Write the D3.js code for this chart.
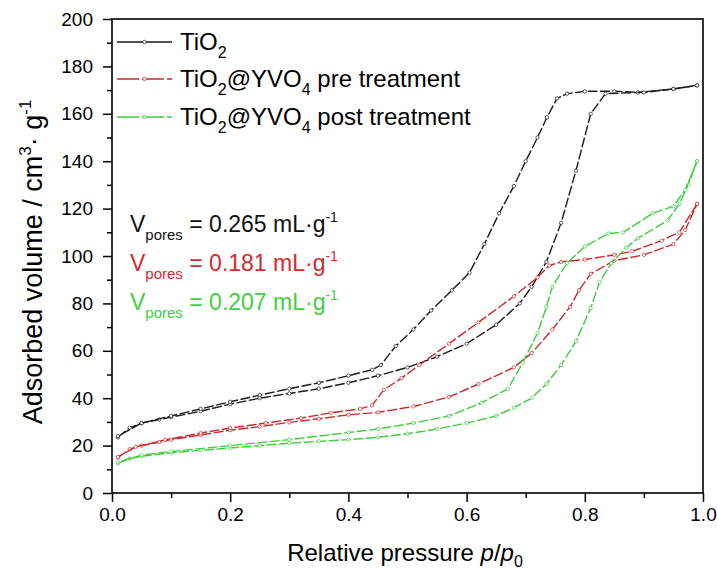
<!DOCTYPE html>
<html>
<head>
<meta charset="utf-8">
<script src="https://cdn.jsdelivr.net/npm/d3@7"></script>
<style>
  html, body { margin: 0; padding: 0; background: #fff; }
  svg { display: block; font-family: "Liberation Sans", Arial, sans-serif; }
</style>
</head>
<body>
<svg id="chart" width="717" height="571"></svg>
<script>
// N2 sorption isotherms: relative pressure p/p0 vs adsorbed volume (cm3/g)
const xTicks = [0.0, 0.2, 0.4, 0.6, 0.8, 1.0];
const yTicks = [0, 20, 40, 60, 80, 100, 120, 140, 160, 180, 200];

// Legend entries as [text, isSubscript] runs
const seriesNames = [
  [["TiO", false], ["2", true]],
  [["TiO", false], ["2", true], ["@YVO", false], ["4", true], [" pre treatment", false]],
  [["TiO", false], ["2", true], ["@YVO", false], ["4", true], [" post treatment", false]]
];
const seriesColors = ["#1a1a1a", "#c8282c", "#3ccc3c"];
const poreVolumes = ["0.265", "0.181", "0.207"];
const labelColors = ["#111111", "#d42a2e", "#3fcf3f"];

// TiO2 — adsorption branch
const tio2AdsP = [0.01, 0.03, 0.05, 0.08, 0.10, 0.15, 0.20, 0.25, 0.30, 0.35, 0.40, 0.45, 0.50, 0.55, 0.60, 0.65, 0.69, 0.71, 0.735, 0.76, 0.785, 0.81, 0.835, 0.89, 0.95, 0.99];
const tio2AdsV = [23.5, 27.5, 29.5, 31, 32, 34.5, 37.5, 40, 42, 44, 46.5, 49.5, 53, 57.5, 63, 71, 80, 87, 97.5, 114, 136, 160, 168.5, 169, 170.5, 172];
// TiO2 — desorption branch
const tio2DesP = [0.99, 0.95, 0.90, 0.85, 0.80, 0.77, 0.753, 0.736, 0.72, 0.70, 0.68, 0.655, 0.63, 0.605, 0.575, 0.54, 0.51, 0.48, 0.455, 0.44, 0.40, 0.35, 0.30, 0.25, 0.20, 0.15, 0.10, 0.05, 0.01];
const tio2DesV = [172, 170.5, 169, 169.5, 169.5, 168.5, 166.5, 158.5, 150, 140, 129.5, 118, 105, 93, 85.5, 77, 69, 62, 54, 52, 49.5, 46.5, 44, 41.3, 38.5, 35.5, 32.5, 29.5, 24];

// TiO2@YVO4 pre treatment — adsorption branch
const preAdsP = [0.01, 0.03, 0.05, 0.08, 0.10, 0.15, 0.20, 0.25, 0.30, 0.35, 0.40, 0.45, 0.51, 0.57, 0.62, 0.68, 0.71, 0.745, 0.775, 0.79, 0.81, 0.85, 0.90, 0.95, 0.97, 0.99];
const preAdsV = [15, 18.5, 20, 21.5, 22.5, 24.5, 26.5, 28, 29.8, 31.3, 33, 34, 36.5, 40.5, 46, 53, 59, 69, 78.5, 85.5, 92.5, 98, 100.5, 105, 111, 122];
// TiO2@YVO4 pre treatment — desorption branch
const preDesP = [0.99, 0.96, 0.93, 0.88, 0.85, 0.80, 0.76, 0.74, 0.72, 0.68, 0.62, 0.57, 0.52, 0.49, 0.46, 0.44, 0.42, 0.37, 0.32, 0.26, 0.20, 0.15, 0.09, 0.04, 0.01];
const preDesV = [122, 110, 106.5, 102, 100.5, 98.5, 97.5, 96, 91, 83, 72, 63, 54, 48.5, 43.5, 37, 35.5, 33.8, 31.6, 29.5, 27.4, 25.3, 22.4, 19.5, 15.2];

// TiO2@YVO4 post treatment — adsorption branch
const postAdsP = [0.01, 0.03, 0.05, 0.10, 0.15, 0.20, 0.25, 0.30, 0.35, 0.40, 0.45, 0.50, 0.55, 0.60, 0.65, 0.68, 0.71, 0.735, 0.76, 0.785, 0.81, 0.825, 0.845, 0.87, 0.89, 0.94, 0.96, 0.975, 0.99];
const postAdsV = [12.5, 14.5, 15.5, 17, 18, 19, 20, 21, 21.8, 22.5, 23.5, 25, 27, 29.5, 32.5, 36, 40, 46, 54, 64, 78, 89, 97, 103.5, 107.5, 115, 122, 130, 140];
// TiO2@YVO4 post treatment — desorption branch
const postDesP = [0.99, 0.97, 0.95, 0.915, 0.865, 0.84, 0.80, 0.77, 0.745, 0.735, 0.72, 0.695, 0.67, 0.625, 0.57, 0.51, 0.45, 0.40, 0.30, 0.20, 0.10, 0.05, 0.01];
const postDesV = [140, 128, 121, 118, 110, 109.5, 104, 97, 87, 78.5, 67.5, 55, 44, 38, 32.5, 29.5, 27, 25.5, 22.5, 20, 17.5, 16, 13];

const branches = [
  { s: 0, p: tio2AdsP, v: tio2AdsV }, { s: 0, p: tio2DesP, v: tio2DesV },
  { s: 1, p: preAdsP, v: preAdsV },   { s: 1, p: preDesP, v: preDesV },
  { s: 2, p: postAdsP, v: postAdsV }, { s: 2, p: postDesP, v: postDesV }
];

const svg = d3.select("#chart");
const plotLeft = 112, plotRight = 703, plotTop = 19, plotBottom = 493;
const x = d3.scaleLinear().domain([0, 1]).range([plotLeft, plotRight]);
const y = d3.scaleLinear().domain([0, 200]).range([plotBottom, plotTop]);

// Axes with outward major and minor ticks
const xAxis = d3.axisBottom(x).tickValues(xTicks).tickFormat(d3.format(".1f")).tickSize(9).tickPadding(6);
const xMinor = d3.axisBottom(x).tickValues(d3.range(0.1, 1, 0.2)).tickFormat("").tickSize(5);
const yAxis = d3.axisLeft(y).tickValues(yTicks).tickFormat(d3.format("d")).tickSize(9).tickPadding(10);
const yMinor = d3.axisLeft(y).tickValues(d3.range(10, 200, 20)).tickFormat("").tickSize(5);

function styleAxis(g) {
  g.select(".domain").remove();
  g.selectAll("line").attr("stroke", "#000").attr("stroke-width", 1.5);
  g.selectAll("text").attr("fill", "#000").attr("font-size", 19).attr("font-family", "'Liberation Sans', Arial, sans-serif");
}
svg.append("g").attr("transform", `translate(0,${plotBottom})`).call(xAxis).call(styleAxis);
svg.append("g").attr("transform", `translate(0,${plotBottom})`).call(xMinor).call(styleAxis);
svg.append("g").attr("transform", `translate(${plotLeft},0)`).call(yAxis).call(styleAxis);
svg.append("g").attr("transform", `translate(${plotLeft},0)`).call(yMinor).call(styleAxis);

// Frame
svg.append("rect").attr("x", plotLeft).attr("y", plotTop).attr("width", plotRight - plotLeft).attr("height", plotBottom - plotTop)
  .attr("fill", "none").attr("stroke", "#000").attr("stroke-width", 1.6);

// Isotherm branches
const line = d3.line().x(d => x(d[0])).y(d => y(d[1]));
const plot = svg.append("g");
branches.forEach(b => {
  const pts = b.p.map((p, i) => [p, b.v[i]]);
  plot.append("path").datum(pts).attr("d", line)
    .attr("fill", "none").attr("stroke", seriesColors[b.s]).attr("stroke-width", 1.4)
    .attr("stroke-dasharray", "10,2.5");
  plot.selectAll(null).data(pts).enter().append("circle")
    .attr("cx", d => x(d[0])).attr("cy", d => y(d[1])).attr("r", 1.7)
    .attr("fill", "#fff").attr("stroke", seriesColors[b.s]).attr("stroke-width", 0.7);
});

// Legend
const legendY = [42, 79, 117];
const leg = svg.append("g");
seriesNames.forEach((runs, i) => {
  const ly = legendY[i];
  leg.append("line").attr("x1", 117).attr("x2", 172).attr("y1", ly).attr("y2", ly)
    .attr("stroke", seriesColors[i]).attr("stroke-width", 1.4).attr("stroke-dasharray", i === 0 ? null : "22,3");
  leg.append("circle").attr("cx", 144.5).attr("cy", ly).attr("r", 1.7)
    .attr("fill", "#fff").attr("stroke", seriesColors[i]).attr("stroke-width", 0.7);
  const t = leg.append("text").attr("x", 180).attr("y", ly + 8).attr("font-size", 24).attr("fill", "#000");
  let shifted = false;
  runs.forEach(([txt, sub]) => {
    const ts = t.append("tspan").text(txt);
    if (sub) { ts.attr("font-size", 16).attr("dy", 8); shifted = true; }
    else if (shifted) { ts.attr("dy", -8); shifted = false; }
  });
});

// Pore volume annotations
const noteY = [232, 271, 310];
poreVolumes.forEach((v, i) => {
  const t = svg.append("text").attr("x", 130).attr("y", noteY[i]).attr("font-size", 23).attr("fill", labelColors[i]);
  t.append("tspan").text("V");
  t.append("tspan").attr("font-size", 15).attr("dy", 8).text("pores");
  t.append("tspan").attr("dy", -8).text(" = " + v + " mL\u00b7g");
  t.append("tspan").attr("font-size", 14).attr("dy", -10).text("-1");
});

// Axis titles
const xt = svg.append("text").attr("x", 405).attr("y", 561).attr("text-anchor", "middle").attr("font-size", 24).attr("fill", "#000");
xt.append("tspan").text("Relative pressure ");
xt.append("tspan").attr("font-style", "italic").text("p");
xt.append("tspan").text("/");
xt.append("tspan").attr("font-style", "italic").text("p");
xt.append("tspan").attr("font-size", 16).attr("dy", 6).text("0");

const yt = svg.append("text").attr("transform", "translate(42,262) rotate(-90)").attr("text-anchor", "middle").attr("font-size", 27).attr("fill", "#000");
yt.append("tspan").text("Adsorbed volume / cm");
yt.append("tspan").attr("font-size", 17).attr("dy", -11).text("3");
yt.append("tspan").attr("dy", 11).text("\u00b7 g");
yt.append("tspan").attr("font-size", 17).attr("dy", -11).text("-1");
</script>
</body>
</html>
